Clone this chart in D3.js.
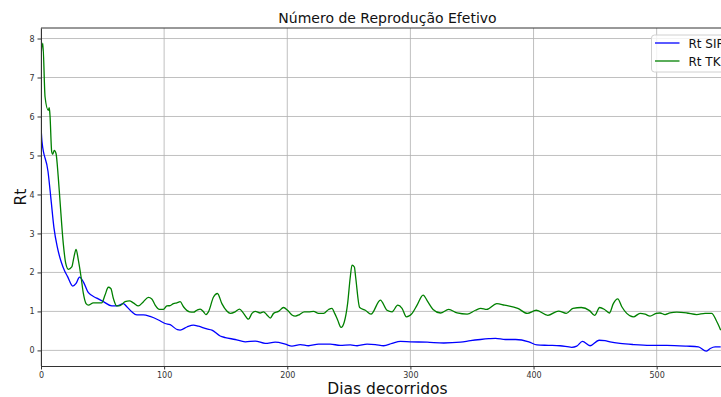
<!DOCTYPE html>
<html>
<head>
<meta charset="utf-8">
<script src="https://cdn.jsdelivr.net/npm/d3@7"></script>
<style>
  body { margin: 0; background: #fff; overflow: hidden; }
  svg { display: block; font-family: "DejaVu Sans", sans-serif; }
</style>
</head>
<body>
<div id="chart"></div>
<script>
'use strict';

// Rt SIR (blue)
var sirDays = [0, 0.8, 5.7, 8.1, 10.5, 13.3, 16.5, 19.3, 21.5, 25.8, 28.5, 31.3, 34.4, 38.5, 45.3,
    50.7, 57.5, 61.5, 66.9, 69.7, 73.7, 77.8, 83.2, 88.6, 95.4, 100.8, 104.9, 110.8, 113, 118.5,
    123.8, 127.9, 134.7, 138.8, 145.5, 149.6, 157.7, 165.9, 174, 182.1, 190.2, 198.4, 203.8, 210.6,
    217.3, 225.4, 234.9, 243, 251.2, 256.7, 264.8, 271.5, 278.3, 285.1, 291.9, 300, 313.6, 327.1,
    340.7, 348.8, 356.9, 363.7, 369.1, 377.2, 385.4, 396.2, 402.8, 412, 421.5, 431, 435.1, 439.7,
    445.9, 453.2, 458, 462.1, 470.2, 481.1, 494.6, 508.2, 524.4, 533.9, 540.2, 543.5, 547.5, 552];
var sirRt = [5.75, 5.36, 4.59, 3.88, 3.15, 2.64, 2.26, 2.03, 1.9, 1.65, 1.72, 1.88, 1.76, 1.48, 1.34,
    1.25, 1.14, 1.14, 1.2, 1.12, 0.99, 0.91, 0.91, 0.87, 0.78, 0.69, 0.66, 0.53, 0.52, 0.6,
    0.65, 0.62, 0.55, 0.52, 0.37, 0.33, 0.28, 0.22, 0.24, 0.18, 0.21, 0.16, 0.11, 0.15,
    0.12, 0.16, 0.16, 0.13, 0.14, 0.12, 0.16, 0.15, 0.12, 0.18, 0.23, 0.22, 0.21, 0.19,
    0.21, 0.25, 0.28, 0.3, 0.31, 0.28, 0.28, 0.22, 0.14, 0.13, 0.12, 0.08, 0.11, 0.23,
    0.12, 0.26, 0.25, 0.22, 0.18, 0.15, 0.13, 0.13, 0.11, 0.09, -0.02, 0.05, 0.09, 0.09];

// Rt TK (green)
var tkDays = [0, 1.5, 3.3, 5.9, 6.7, 7.3, 8.7, 9.5, 10.8, 12.2, 14, 15.4, 18.1, 20.1, 22.2, 25,
    26.8, 28.5, 30.3, 32.5, 34.4, 36.6, 38.5, 42.5, 46.6, 49.3, 52, 54.7, 56.7, 58.8, 61.5, 64.2,
    68.3, 71.8, 75, 79.1, 83.2, 87.2, 90, 92.7, 96.2, 99.4, 102.2, 104.9, 107.6, 110.3, 113, 115.7,
    120.6, 123.8, 126.6, 129.3, 132, 133.9, 136, 140.1, 143.3, 146.9, 150.9, 153.7, 157.7, 161.2,
    164.5, 168.5, 171.3, 174, 178, 180.7, 183.5, 186.2, 188.9, 192.9, 197, 200.2, 203.8, 206.5,
    210, 213.8, 217.3, 221.4, 225.4, 229.5, 233.6, 236.3, 238.5, 240.9, 243.7, 246.3, 249, 251.2,
    252.6, 254.5, 255.5, 258.8, 263.4, 268, 275.6, 281, 285.1, 289.7, 293.2, 296.7, 301.4, 305.4,
    310.3, 314.1, 318.4, 324.4, 331.1, 337.9, 346.1, 352.8, 357.2, 362, 370.2, 376.4, 387.2, 394.9,
    402.2, 411.6, 420.3, 426.6, 432, 438.8, 445.5, 449.6, 453.7, 457.7, 461.6, 464.8, 468.4, 471.7,
    475.7, 481.1, 486.5, 490.6, 494.6, 499.5, 502.7, 506.8, 510.8, 516.3, 524.4, 532.5, 539.3,
    544.7, 548.2, 552];
var tkRt = [7.55, 7.88, 6.5, 6.16, 6.23, 6.03, 5.09, 5.03, 5.13, 5.05, 4.45, 3.85, 2.74, 2.23, 2.08, 2.14,
    2.4, 2.59, 2.32, 1.89, 1.46, 1.2, 1.16, 1.22, 1.22, 1.22, 1.42, 1.62, 1.59, 1.33, 1.14, 1.15,
    1.25, 1.27, 1.22, 1.14, 1.25, 1.36, 1.32, 1.16, 1.05, 1.05, 1.14, 1.15, 1.2, 1.22, 1.25, 1.12,
    0.99, 0.98, 1.03, 1.06, 0.99, 0.92, 0.99, 1.37, 1.46, 1.2, 1.01, 0.95, 0.99, 1.06,
    0.95, 0.8, 0.95, 1.0, 0.96, 0.99, 0.91, 0.83, 0.95, 1.0, 1.1, 1.03, 0.91, 0.88,
    0.92, 0.99, 0.99, 1.0, 0.95, 0.95, 1.05, 1.08, 0.95, 0.78, 0.59, 0.73, 1.2, 1.89,
    2.19, 2.14, 1.89, 1.1, 1.03, 0.93, 1.29, 1.03, 0.99, 1.16, 1.08, 0.86, 0.95, 1.16,
    1.42, 1.25, 1.05, 0.96, 1.05, 0.96, 0.93, 1.03, 1.08, 1.05, 1.2, 1.16, 1.08, 0.95,
    1.03, 0.9, 1.01, 0.95, 1.08, 1.1, 1.02, 0.9, 1.1, 1.05, 0.96, 1.2, 1.32, 1.12,
    0.95, 0.86, 0.95, 0.93, 0.88, 0.95, 0.96, 0.92, 0.96, 0.98, 0.96, 0.92, 0.95,
    0.95, 0.78, 0.52];

var xTicks = [0, 100, 200, 300, 400, 500];
var yTicks = [0, 1, 2, 3, 4, 5, 6, 7, 8];
var seriesNames = ['Rt SIR', 'Rt TK'];
var seriesColors = ['#0000ff', '#008000'];

var outerWidth = 721,
    outerHeight = 397,
    margin = {left: 41, right: -13, top: 28, bottom: 31},
    width = outerWidth - margin.left - margin.right,
    height = outerHeight - margin.top - margin.bottom;

var svg = d3.select('#chart')
    .append('svg')
    .attr('width', outerWidth)
    .attr('height', outerHeight);

var xScale = d3.scaleLinear().domain([0, 562.8]).range([0, width]);
var yScale = d3.scaleLinear().domain([-0.4, 8.27]).range([height, 0]);

svg.append('defs').append('clipPath')
    .attr('id', 'plot-clip')
    .append('rect')
    .attr('width', width)
    .attr('height', height);

var g = svg.append('g')
    .attr('transform', 'translate(' + margin.left + ',' + margin.top + ')');

// grid
g.append('g').selectAll('line.vgrid')
    .data(xTicks)
    .enter().append('line')
    .attr('x1', function (d) { return xScale(d); })
    .attr('x2', function (d) { return xScale(d); })
    .attr('y1', 0)
    .attr('y2', height)
    .attr('stroke', '#b0b0b0')
    .attr('stroke-width', 0.8);

g.append('g').selectAll('line.hgrid')
    .data(yTicks)
    .enter().append('line')
    .attr('x1', 0)
    .attr('x2', width)
    .attr('y1', function (d) { return yScale(d); })
    .attr('y2', function (d) { return yScale(d); })
    .attr('stroke', '#b0b0b0')
    .attr('stroke-width', 0.8);

// series
var line = d3.line()
    .x(function (d) { return xScale(d[0]); })
    .y(function (d) { return yScale(d[1]); })
    .curve(d3.curveMonotoneX);

var series = [d3.zip(sirDays, sirRt), d3.zip(tkDays, tkRt)];

g.append('g')
    .attr('clip-path', 'url(#plot-clip)')
    .selectAll('path')
    .data(series)
    .enter().append('path')
    .attr('d', line)
    .attr('fill', 'none')
    .attr('stroke', function (d, i) { return seriesColors[i]; })
    .attr('stroke-width', 1.3)
    .attr('stroke-linejoin', 'round');

// axes
var xAxis = d3.axisBottom(xScale).tickValues(xTicks).tickSize(3.5).tickPadding(3).tickSizeOuter(0);
var yAxis = d3.axisLeft(yScale).tickValues(yTicks).tickSize(3.5).tickPadding(3).tickSizeOuter(0);

var gx = g.append('g')
    .attr('transform', 'translate(0,' + height + ')')
    .call(xAxis);
var gy = g.append('g').call(yAxis);

[gx, gy].forEach(function (ax) {
    ax.select('.domain').attr('stroke', '#333').attr('stroke-width', 1);
    ax.selectAll('.tick line').attr('stroke', '#333');
    ax.selectAll('.tick text')
        .attr('fill', '#333')
        .style('font-size', '8px')
        .style('font-family', '"DejaVu Sans", sans-serif');
});

// top spine
g.append('line')
    .attr('x1', 0).attr('x2', width)
    .attr('y1', 0).attr('y2', 0)
    .attr('stroke', '#333')
    .attr('stroke-width', 1);

// labels
svg.append('text')
    .attr('x', margin.left + width / 2)
    .attr('y', 23)
    .attr('text-anchor', 'middle')
    .style('font-size', '14px')
    .attr('fill', '#111')
    .text('Número de Reprodução Efetivo');

svg.append('text')
    .attr('x', margin.left + width / 2)
    .attr('y', 394)
    .attr('text-anchor', 'middle')
    .style('font-size', '15.5px')
    .attr('fill', '#111')
    .text('Dias decorridos');

svg.append('text')
    .attr('transform', 'translate(26,' + (margin.top + height / 2) + ') rotate(-90)')
    .attr('text-anchor', 'middle')
    .style('font-size', '15.5px')
    .attr('fill', '#111')
    .text('Rt');

// legend
var legend = svg.append('g')
    .attr('transform', 'translate(651.5,35)');

legend.append('rect')
    .attr('width', 78)
    .attr('height', 37)
    .attr('rx', 3)
    .attr('fill', '#fff')
    .attr('fill-opacity', 0.8)
    .attr('stroke', '#d0d0d0')
    .attr('stroke-width', 1);

var item = legend.selectAll('g.item')
    .data(seriesNames)
    .enter().append('g')
    .attr('transform', function (d, i) { return 'translate(0,' + (8 + i * 18) + ')'; });

item.append('line')
    .attr('x1', 3.5).attr('x2', 28)
    .attr('y1', 0).attr('y2', 0)
    .attr('stroke', function (d, i) { return seriesColors[i]; })
    .attr('stroke-width', 1.3);

item.append('text')
    .attr('x', 37)
    .attr('y', 4.5)
    .style('font-size', '12px')
    .attr('fill', '#111')
    .text(function (d) { return d; });
</script>
</body>
</html>
